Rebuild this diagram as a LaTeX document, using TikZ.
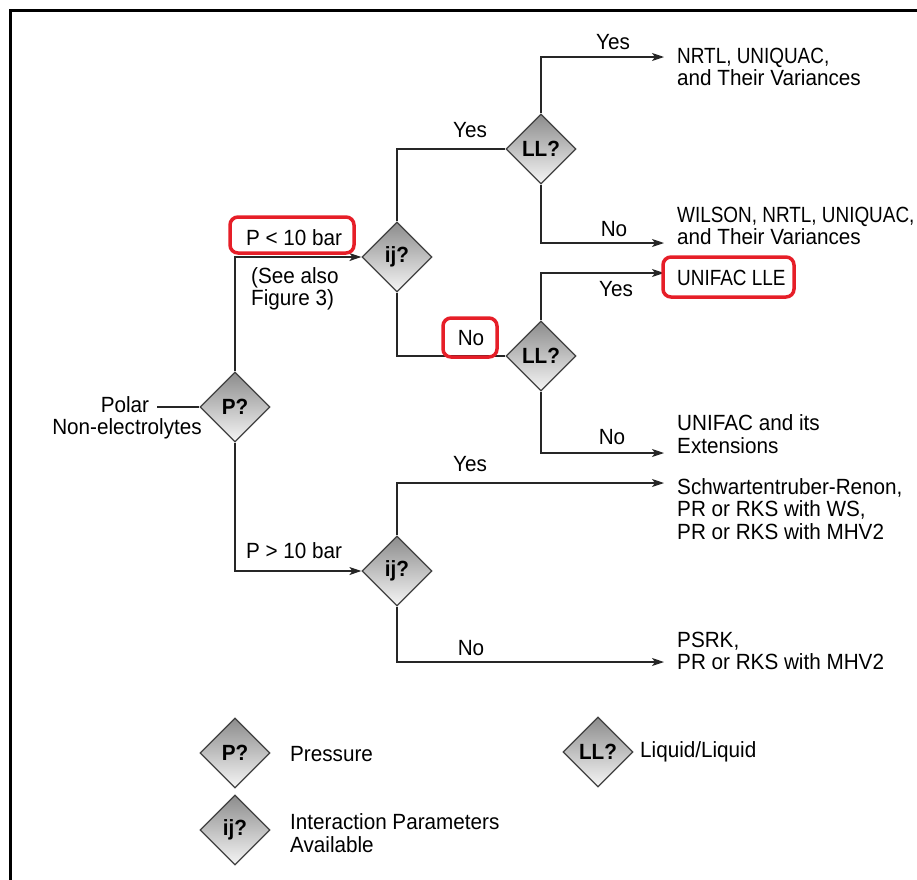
\documentclass[tikz,border=0pt]{standalone}
\usepackage{fontspec}
\setmainfont{Liberation Sans}[FakeStretch=0.94]
\newfontfamily\capsfont{Liberation Sans}[FakeStretch=0.86]
\usetikzlibrary{shapes.geometric,arrows.meta}
\definecolor{hlred}{RGB}{230,30,40}
\newcommand\fs{\fontsize{22}{22.5}\selectfont}
\begin{document}
\begin{tikzpicture}[x=1pt,y=-1pt,
  dia/.style={diamond, aspect=1, minimum size=70pt, inner sep=0pt, draw=black!75, line width=1.2pt, top color=black!45, bottom color=black!4, font=\fs\bfseries},
  ln/.style={line width=1.2pt, draw=black!85},
  arr/.style={ln, -{Stealth[length=12pt,width=8pt,inset=3pt]}},
  lab/.style={font=\fs, inner sep=0pt},
  outtxt/.style={font=\fs, inner sep=0pt, anchor=west, align=left},
  hl/.style={draw=hlred, line width=3.5pt, rounded corners=8pt}]
\useasboundingbox (0,0) rectangle (917,879);
% frame
\draw[line width=3pt] (10,890) -- (10,10) -- (930,10);
% decision diamonds
\node[dia] (P) at (235,407) {P?};
\node[dia] (ij1) at (397,257) {ij?};
\node[dia] (LL1) at (541,149) {LL?};
\node[dia] (LL2) at (541,356) {LL?};
\node[dia] (ij2) at (397,571) {ij?};
% source
\node[lab] (polar) at (125,405) {Polar};
\node[lab] (nonel) at (127,429) {Non-electrolytes};
\coordinate (pl) at (157,407);
\draw[ln] (pl) -- (P.west);
% arrow tips
\coordinate (t1) at (664,57);
\coordinate (t2) at (664,243);
\coordinate (t3) at (664,273);
\coordinate (t4) at (664,453);
\coordinate (t5) at (664,483);
\coordinate (t6) at (664,662);
% connectors
\draw[arr] (P.north) |- (ij1.west);
\draw[arr] (P.south) |- (ij2.west);
\draw[ln] (ij1.north) |- (LL1.west);
\draw[ln] (ij1.south) |- (LL2.west);
\draw[arr] (LL1.north) |- (t1);
\draw[arr] (LL1.south) |- (t2);
\draw[arr] (LL2.north) |- (t3);
\draw[arr] (LL2.south) |- (t4);
\draw[arr] (ij2.north) |- (t5);
\draw[arr] (ij2.south) |- (t6);
% labels
\node[lab] (y1) at (613,42) {Yes};
\node[lab] (n1) at (614,229) {No};
\node[lab] (y2) at (616,289) {Yes};
\node[lab] (n2) at (612,437) {No};
\node[lab] (y3) at (470,130) {Yes};
\node[lab] (n3) at (471,338) {No};
\node[lab] (y4) at (470,464) {Yes};
\node[lab] (n4) at (471,648) {No};
\node[lab] (plo) at (294,238) {P < 10 bar};
\node[lab] (phi) at (294,551) {P > 10 bar};
\node[outtxt] (see) at (251,289) {(See also\\Figure 3)};
% outcomes
\node[outtxt] (o1) at (677,67) {{\capsfont NRTL, UNIQUAC,}\\and Their Variances};
\node[outtxt] (o2) at (677,226) {{\capsfont WILSON, NRTL, UNIQUAC,}\\and Their Variances};
\node[outtxt] (o3) at (677,278) {\capsfont UNIFAC LLE};
\node[outtxt] (o4) at (677,434) {UNIFAC and its\\Extensions};
\node[outtxt] (o5) at (677,509) {Schwartentruber-Renon,\\PR or RKS with WS,\\PR or RKS with MHV2};
\node[outtxt] (o6) at (677,651) {PSRK,\\PR or RKS with MHV2};
% highlights
\draw[hl] (230,217) rectangle (354,253);
\draw[hl] (443,318) rectangle (497,357);
\draw[hl] (663,257) rectangle (794,297);
% legend
\node[dia] (Pl) at (235,753) {P?};
\node[dia] (ijl) at (235,830) {ij?};
\node[dia] (LLl) at (598,752) {LL?};
\node[outtxt] (lp) at (290,754) {Pressure};
\node[outtxt] (lij) at (290,833) {Interaction Parameters\\Available};
\node[outtxt] (lll) at (640,752) {Liquid/Liquid};
\end{tikzpicture}
\end{document}
